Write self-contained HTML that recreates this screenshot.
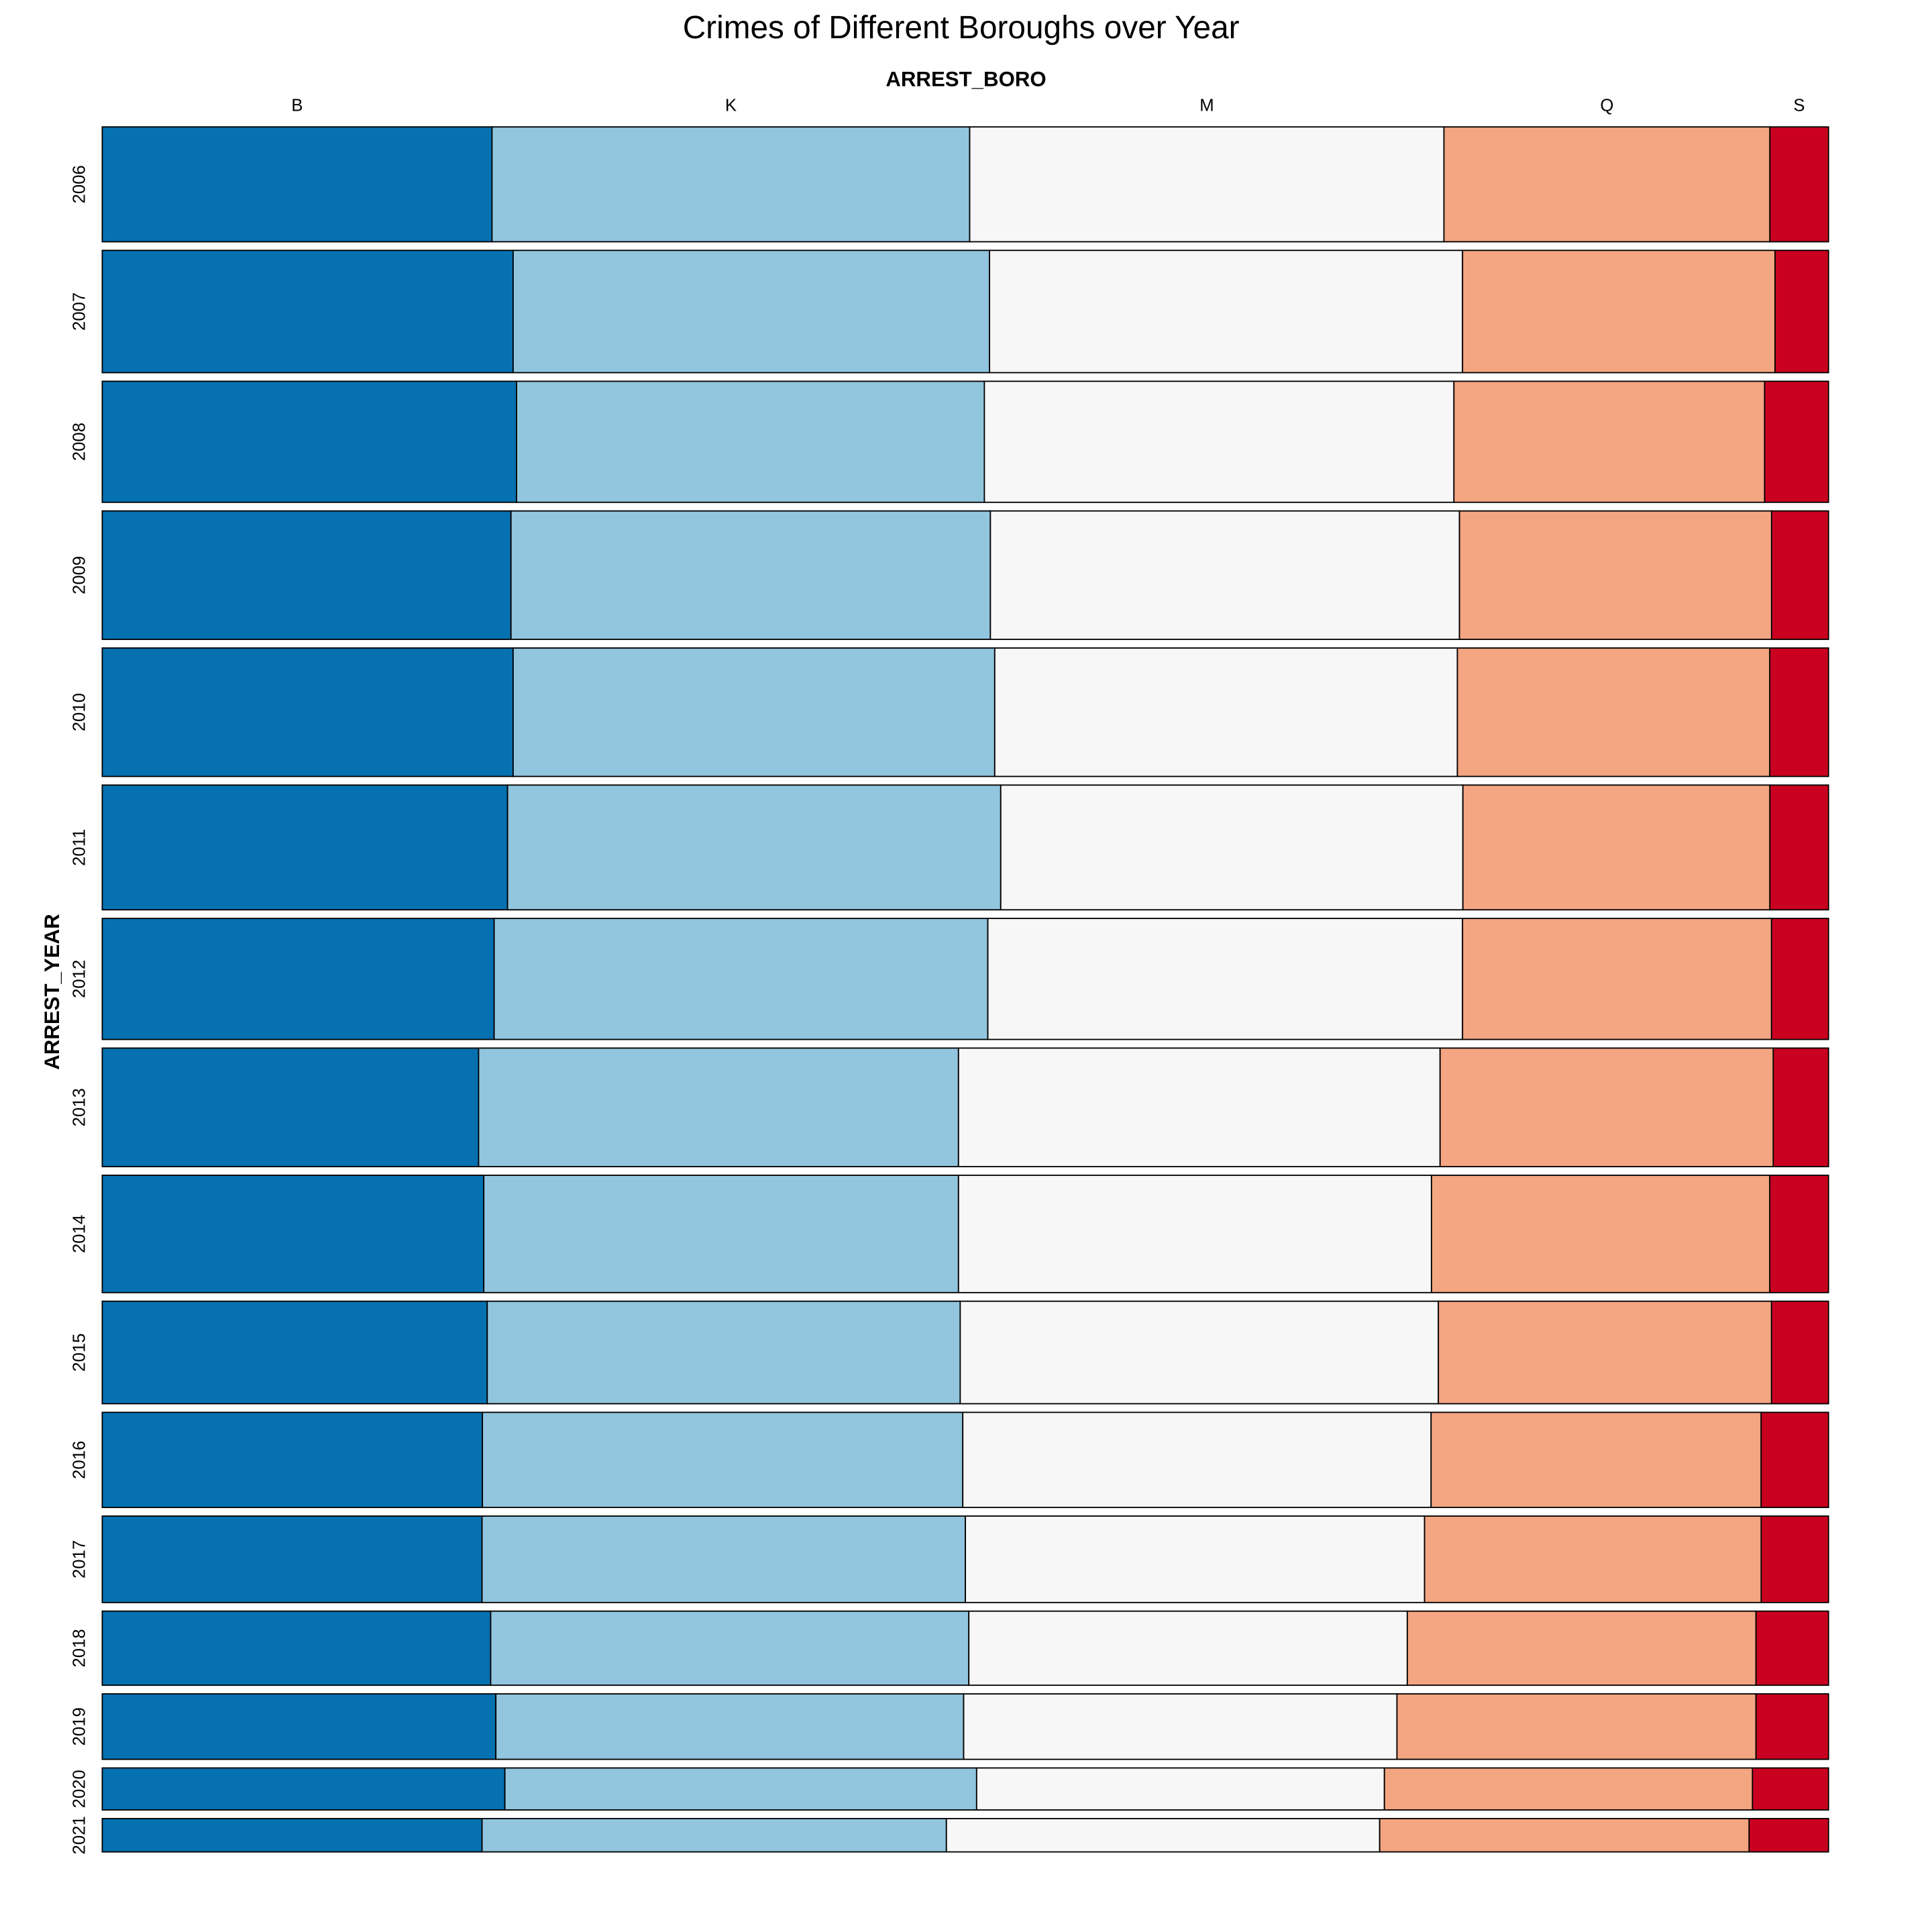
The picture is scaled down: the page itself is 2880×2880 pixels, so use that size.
<!DOCTYPE html>
<html><head><meta charset="utf-8"><style>
html,body{margin:0;padding:0;background:#fff;}
svg{display:block;}
text{font-family:"Liberation Sans",Arial,sans-serif;fill:#000;}
</style></head><body>
<svg id="chart" width="2880" height="2880" viewBox="0 0 1568 1568" xmlns="http://www.w3.org/2000/svg">
<text x="780" y="31" font-size="26" text-anchor="middle">Crimes of Different Boroughs over Year</text>
<text x="784" y="70" font-size="17" font-weight="bold" text-anchor="middle">ARREST_BORO</text>
<text transform="translate(48,805) rotate(-90)" font-size="17" font-weight="bold" text-anchor="middle">ARREST_YEAR</text>
<g id="cells"></g>
<g id="labels"></g>
</svg>
<script>
const years = ["2006","2007","2008","2009","2010","2011","2012","2013","2014","2015","2016","2017","2018","2019","2020","2021"];
const boros = ["B","K","M","Q","S"];
const yearTotals = [93,99,98,104,104,101,98,96,95,83,77,70,60,53,34,27];
const shareB = [22.6,23.8,24.0,23.7,23.8,23.5,22.7,21.8,22.1,22.3,22.0,22.0,22.5,22.8,23.3,22.0];
const shareK = [27.7,27.6,27.1,27.8,27.9,28.6,28.6,27.8,27.5,27.4,27.8,28.0,27.7,27.1,27.3,26.9];
const shareM = [27.5,27.4,27.2,27.2,26.8,26.8,27.5,27.9,27.4,27.7,27.1,26.6,25.4,25.1,23.6,25.1];
const shareQ = [18.9,18.1,18.0,18.1,18.1,17.8,17.9,19.3,19.6,19.3,19.1,19.5,20.2,20.8,21.3,21.4];
const shareS = [3.4,3.1,3.7,3.3,3.4,3.4,3.3,3.2,3.4,3.3,3.9,3.9,4.2,4.2,4.4,4.6];
const colors = ["#0571b0","#92c5de","#f7f7f7","#f4a582","#ca0020"];

const NS = "http://www.w3.org/2000/svg";
const X0 = 83, X1 = 1484, Y0 = 103, Y1 = 1503, GAP = 7;
const series = [shareB, shareK, shareM, shareQ, shareS];
const totalH = (Y1 - Y0) - GAP * (years.length - 1);
const sumTot = yearTotals.reduce((a, b) => a + b, 0);
const yScale = v => v / sumTot * totalH;
const cells = document.getElementById('cells');
const labels = document.getElementById('labels');
let y = Y0;
years.forEach((yr, i) => {
  const h = yScale(yearTotals[i]);
  const rowSum = series.reduce((a, s) => a + s[i], 0);
  const xScale = v => v / rowSum * (X1 - X0);
  let x = X0;
  series.forEach((s, j) => {
    const w = xScale(s[i]);
    const r = document.createElementNS(NS, 'rect');
    
    
    r.setAttribute('x', x); r.setAttribute('y', y);
    r.setAttribute('width', w); r.setAttribute('height', h);
    r.setAttribute('fill', colors[j]); r.setAttribute('stroke', '#000'); r.setAttribute('stroke-width', '1');
    cells.appendChild(r);
    if (i === 0) {
      const t = document.createElementNS(NS, 'text');
      
      
      t.setAttribute('x', x + w / 2); t.setAttribute('y', 90);
      t.setAttribute('font-size', '14'); t.setAttribute('text-anchor', 'middle');
      t.textContent = boros[j];
      labels.appendChild(t);
    }
    x += w;
  });
  const t = document.createElementNS(NS, 'text');
  
  
  t.setAttribute('transform', 'translate(69,' + (y + h / 2) + ') rotate(-90)');
  t.setAttribute('font-size', '14'); t.setAttribute('text-anchor', 'middle');
  t.textContent = yr;
  labels.appendChild(t);
  y += h + GAP;
});
</script>
</body></html>
